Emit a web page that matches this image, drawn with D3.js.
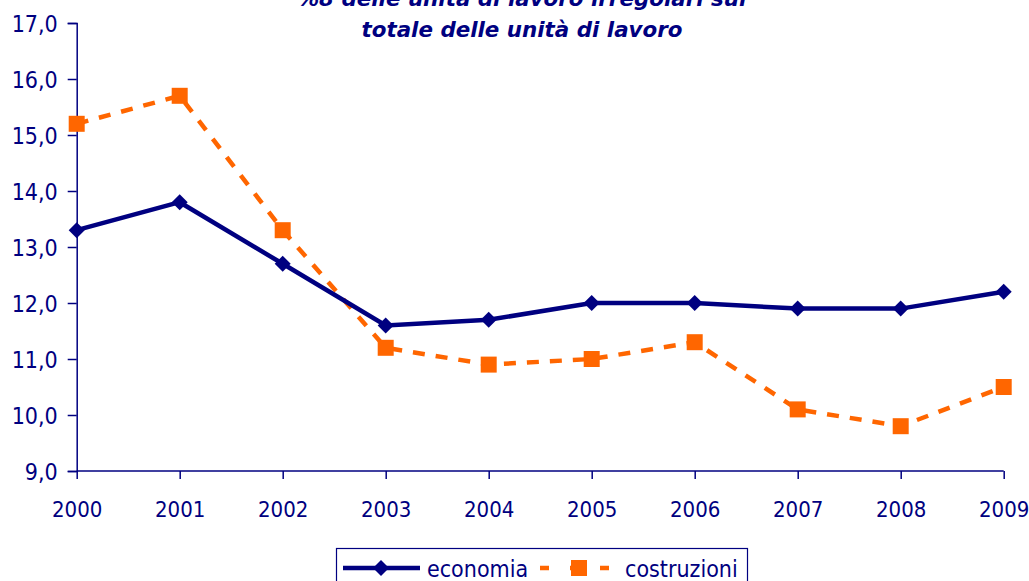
<!DOCTYPE html>
<html><head><meta charset="utf-8">
<script src="https://cdn.jsdelivr.net/npm/d3@7"></script>
<style>body{margin:0;background:#fff}svg{display:block}</style>
</head><body>
<script>
const years = ["2000","2001","2002","2003","2004","2005","2006","2007","2008","2009"];
const economia = [13.3,13.8,12.7,11.6,11.7,12.0,12.0,11.9,11.9,12.2];
const costruzioni = [15.2,15.7,13.3,11.2,10.9,11.0,11.3,10.1,9.8,10.5];
const yTicks = [9,10,11,12,13,14,15,16,17];
const titleLines = ["%8 delle unità di lavoro irregolari sul","totale delle unità di lavoro"];
const seriesNames = ["economia","costruzioni"];

const W=1029,H=581;
const navy="#000080", orange="#FF6600";
const svg=d3.select("body").append("svg").attr("width",W).attr("height",H);
const x=d3.scalePoint().domain(years).range([76.7,1003.7]);
const y=d3.scaleLinear().domain([9,17]).range([471,23]);
const fmt=d=>d3.format(".1f")(d).replace(".",",");
const tickFont="'DejaVu Sans Condensed','DejaVu Sans',sans-serif";

// axes
const yAx=svg.append("g").attr("transform","translate(76.7,0)")
 .call(d3.axisLeft(y).tickValues(yTicks).tickFormat(fmt).tickSize(9).tickPadding(10));
const xAx=svg.append("g").attr("transform","translate(0,471)")
 .call(d3.axisBottom(x).tickSize(8).tickPadding(22));
[yAx,xAx].forEach(g=>{
 g.select(".domain").attr("stroke",navy).attr("stroke-width",1.5);
 g.selectAll(".tick line").attr("stroke",navy).attr("stroke-width",1.5);
 g.selectAll("text").attr("fill",navy).style("font-family",tickFont).style("font-size","23px");
});
xAx.selectAll("text").style("font-size","22px");
xAx.select(".domain").attr("d","M76.7,0H1003.7");
yAx.selectAll("text").attr("dy","0.36em");

const line=d3.line().x((d,i)=>x(years[i])).y(d=>y(d));
svg.append("path").datum(costruzioni).attr("d",line).attr("fill","none")
 .attr("stroke",orange).attr("stroke-width",4.5).attr("stroke-dasharray","12,11");
svg.append("path").datum(economia).attr("d",line).attr("fill","none")
 .attr("stroke",navy).attr("stroke-width",4.5);

svg.selectAll(".sq").data(costruzioni).join("rect")
 .attr("x",(d,i)=>x(years[i])-8).attr("y",d=>y(d)-8).attr("width",16).attr("height",16).attr("fill",orange);
svg.selectAll(".dm").data(economia).join("path")
 .attr("d",(d,i)=>{const cx=x(years[i]),cy=y(d),r=8;return `M${cx},${cy-r}L${cx+r},${cy}L${cx},${cy+r}L${cx-r},${cy}Z`;})
 .attr("fill",navy);

// title
svg.selectAll(".tt").data(titleLines).join("text")
 .attr("x",522).attr("y",(d,i)=>6+i*31).attr("text-anchor","middle")
 .attr("fill",navy).style("font-family","'DejaVu Sans',Verdana,sans-serif")
 .style("font-weight","bold").style("font-style","italic").style("font-size","21.4px").text(d=>d);

// legend
const lg=svg.append("g");
lg.append("rect").attr("x",336.5).attr("y",548.5).attr("width",411).attr("height",40)
 .attr("fill","#fff").attr("stroke",navy).attr("stroke-width",1.2);
lg.append("line").attr("x1",343).attr("x2",420).attr("y1",568).attr("y2",568).attr("stroke",navy).attr("stroke-width",4.5);
lg.append("path").attr("d","M381,560L389,568L381,576L373,568Z").attr("fill",navy);
lg.append("text").attr("x",427).attr("y",577).attr("fill",navy)
 .style("font-family",tickFont).style("font-size","23px").text(seriesNames[0]);
lg.append("line").attr("x1",540).attr("x2",610).attr("y1",568).attr("y2",568).attr("stroke",orange).attr("stroke-width",4.5).attr("stroke-dasharray","9,21");
lg.append("rect").attr("x",571).attr("y",560).attr("width",16).attr("height",16).attr("fill",orange);
lg.append("text").attr("x",625).attr("y",577).attr("fill",navy)
 .style("font-family",tickFont).style("font-size","23px").text(seriesNames[1]);
</script>
</body></html>
